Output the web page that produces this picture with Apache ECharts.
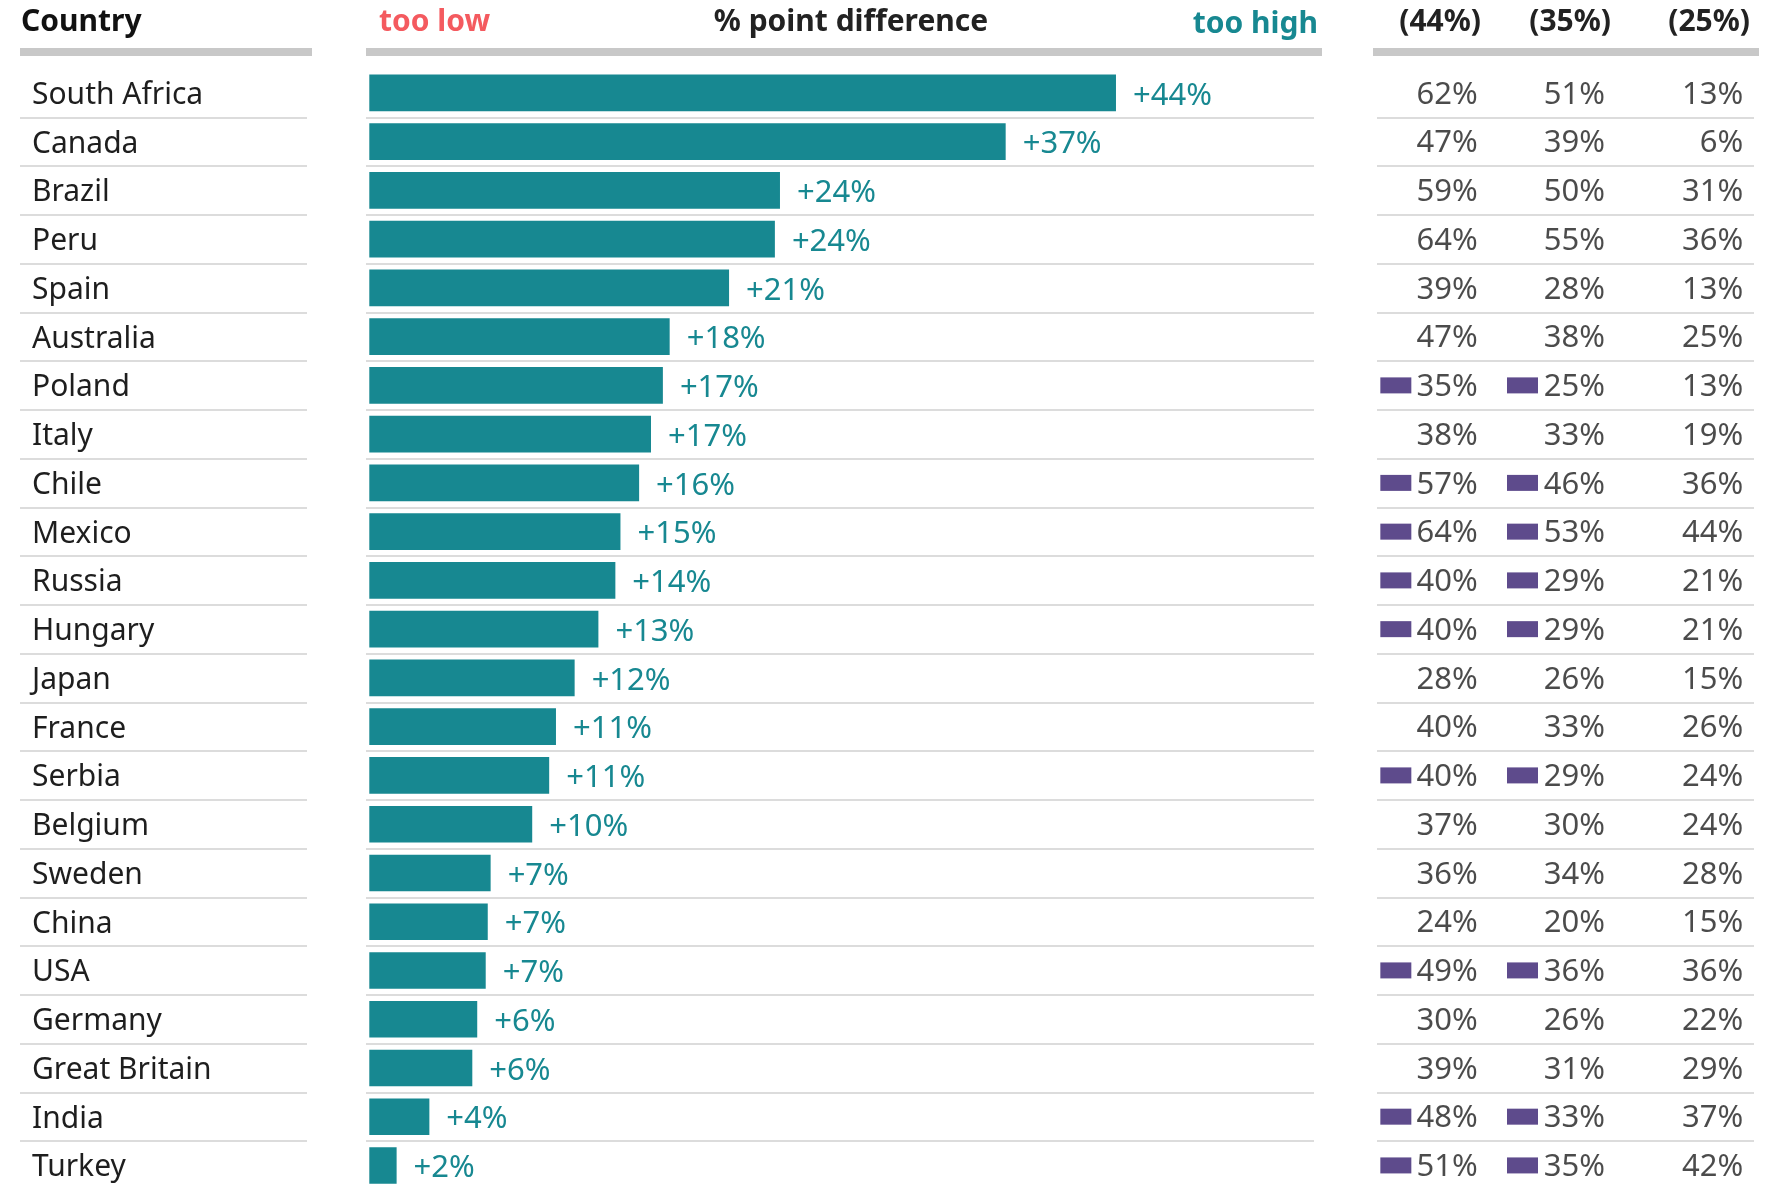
<!DOCTYPE html>
<html><head><meta charset="utf-8">
<script src="https://cdn.jsdelivr.net/npm/echarts@6/dist/echarts.min.js"></script>
<style>html,body{margin:0;padding:0;background:#fff}#c{width:1784px;height:1186px}</style>
</head><body><div id="c"></div>
<script>
const countries = ['South Africa','Canada','Brazil','Peru','Spain','Australia','Poland','Italy','Chile','Mexico','Russia','Hungary','Japan','France','Serbia','Belgium','Sweden','China','USA','Germany','Great Britain','India','Turkey'];
const diffValues = [44.0,37.5,24.2,23.9,21.2,17.7,17.3,16.6,15.9,14.8,14.5,13.5,12.1,11.0,10.6,9.6,7.15,6.98,6.86,6.36,6.07,3.54,1.61];
const diffLabels = [44,37,24,24,21,18,17,17,16,15,14,13,12,11,11,10,7,7,7,6,6,4,2];
const col44 = [62,47,59,64,39,47,35,38,57,64,40,40,28,40,40,37,36,24,49,30,39,48,51];
const col35 = [51,39,50,55,28,38,25,33,46,53,29,29,26,33,29,30,34,20,36,26,31,33,35];
const col25 = [13,6,31,36,13,25,13,19,36,44,21,21,15,26,24,24,28,15,36,22,29,37,42];
const flagged = [0,0,0,0,0,0,1,0,1,1,1,1,0,0,1,0,0,0,1,0,0,1,1];
const tableHeaders = ['(44%)','(35%)','(25%)'];
const headerLeft = 'Country', headerMid = '% point difference', headerLow = 'too low', headerHigh = 'too high';

const FONT = 'Noto Sans';
const TEAL = '#178891', PURPLE = '#5e4b8c', SEP = '#dcdcdc', TXT = '#1e1e1e';
const GRID_TOP = 68.5, GRID_H = 1121.3;

const chart = echarts.init(document.getElementById('c'), null, {renderer: 'canvas'});

function catAxis(gridIndex, extra) {
  return Object.assign({
    type: 'category', gridIndex, data: countries, inverse: true,
    axisLine: {show: false}, axisTick: {show: false}, axisLabel: {show: false},
    splitLine: {show: true, interval: (i) => i !== 0, lineStyle: {color: SEP, width: 2}}
  }, extra || {});
}
function hiddenVal(gridIndex, min, max) {
  return {type: 'value', gridIndex, min, max, show: false, splitLine: {show: false}};
}

const tableSeries = [];
[col44, col35, col25].forEach((col, ci) => {
  const offs = [38, 39.5, 52][ci];
  tableSeries.push({
    type: 'scatter', xAxisIndex: 2, yAxisIndex: 2, symbolSize: 1,
    itemStyle: {color: 'rgba(0,0,0,0)'}, silent: true,
    data: col.map((v, i) => [ci + 0.5, countries[i], v]),
    label: {show: true, position: 'inside', align: 'right', offset: [offs, 2],
      formatter: p => p.data[2] + '%', color: TXT, fontFamily: FONT, fontSize: 31}
  });
});
[col44, col35].forEach((col, ci) => {
  tableSeries.push({
    type: 'scatter', xAxisIndex: 2, yAxisIndex: 2, symbol: 'rect', symbolSize: [31, 16],
    symbolOffset: [ci === 0 ? -44 : -43, 0], itemStyle: {color: PURPLE, opacity: 1}, silent: true,
    data: col.map((v, i) => flagged[i] ? [ci + 0.5, countries[i]] : null).filter(d => d)
  });
});

const gridBase = {top: GRID_TOP, height: GRID_H, outerBoundsMode: 'none', containLabel: false};
const option = {
  animation: false,
  backgroundColor: '#fff',
  grid: [
    Object.assign({left: 20, width: 287}, gridBase),
    Object.assign({left: 366, width: 948}, gridBase),
    Object.assign({left: 1377, width: 377}, gridBase)
  ],
  xAxis: [hiddenVal(0, 0, 1), hiddenVal(1, -(3.3 / 16.97), (948 - 3.3) / 16.97), hiddenVal(2, 0, 3)],
  yAxis: [
    catAxis(0, {axisLabel: {show: true, inside: true, margin: 12,
      formatter: v => '{n|' + v + '}',
      rich: {n: {color: TXT, fontFamily: FONT, fontSize: 30, padding: [5, 0, 0, 0]}}}}),
    catAxis(1), catAxis(2)
  ],
  series: [
    {
      type: 'bar', xAxisIndex: 1, yAxisIndex: 1, data: diffValues, barCategoryGap: '25%',
      itemStyle: {color: TEAL}, silent: true,
      label: {show: true, position: 'right', distance: 17, color: TEAL, fontFamily: FONT, fontSize: 31,
        offset: [0, 3], formatter: p => '+' + diffLabels[p.dataIndex] + '%'}
    }
  ].concat(tableSeries),
  graphic: [
    {type: 'rect', shape: {x: 20, y: 48, width: 292, height: 8}, style: {fill: '#c8c8c8'}, silent: true},
    {type: 'rect', shape: {x: 366, y: 48, width: 956, height: 8}, style: {fill: '#c8c8c8'}, silent: true},
    {type: 'rect', shape: {x: 1373, y: 48, width: 386, height: 8}, style: {fill: '#c8c8c8'}, silent: true},
    {type: 'text', x: 21, y: 22, style: {text: headerLeft, fontFamily: FONT, fontWeight: 'bold', fontSize: 30, fill: '#111', verticalAlign: 'middle', align: 'left'}},
    {type: 'text', x: 379, y: 22, style: {text: headerLow, fontFamily: FONT, fontWeight: 'bold', fontSize: 30, fill: '#f45a5f', verticalAlign: 'middle', align: 'left'}},
    {type: 'text', x: 851, y: 22, style: {text: headerMid, fontFamily: FONT, fontWeight: 'bold', fontSize: 30, fill: '#222', verticalAlign: 'middle', align: 'center'}},
    {type: 'text', x: 1318, y: 24, style: {text: headerHigh, fontFamily: FONT, fontWeight: 'bold', fontSize: 30, fill: TEAL, verticalAlign: 'middle', align: 'right'}},
    {type: 'text', x: 1481, y: 22, style: {text: tableHeaders[0], fontFamily: FONT, fontWeight: 'bold', fontSize: 30, fill: '#222', verticalAlign: 'middle', align: 'right'}},
    {type: 'text', x: 1611, y: 22, style: {text: tableHeaders[1], fontFamily: FONT, fontWeight: 'bold', fontSize: 30, fill: '#222', verticalAlign: 'middle', align: 'right'}},
    {type: 'text', x: 1750, y: 22, style: {text: tableHeaders[2], fontFamily: FONT, fontWeight: 'bold', fontSize: 30, fill: '#222', verticalAlign: 'middle', align: 'right'}}
  ]
};
chart.setOption(option);
</script></body></html>
